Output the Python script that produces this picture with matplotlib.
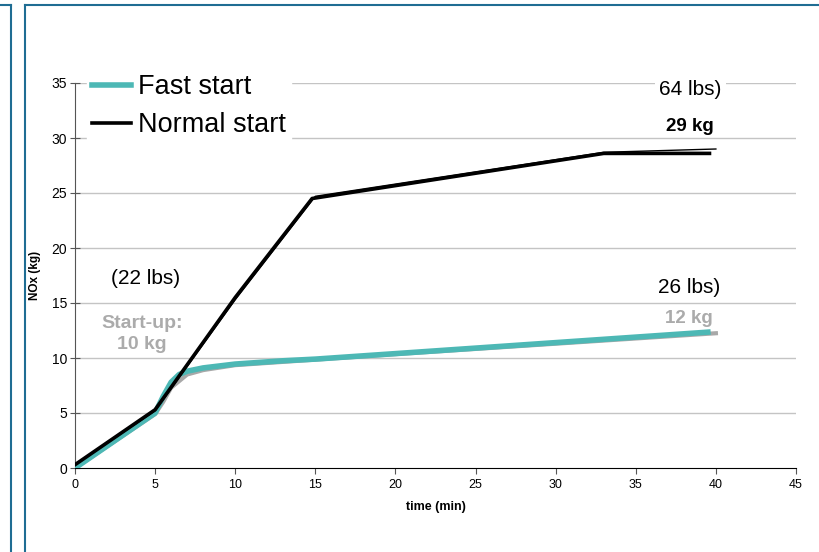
import matplotlib
matplotlib.use("Agg")
import matplotlib.pyplot as plt
from matplotlib.lines import Line2D

plt.rcParams["font.family"] = ["Liberation Sans", "DejaVu Sans"]

# normal start (thick) and its thin companion trace
normal_t = [0, 5, 10, 14.8, 33, 39.6]
normal_nox = [0.3, 5.3, 15.5, 24.5, 28.6, 28.6]
normal_thin_t = [0, 5, 10, 15, 33, 40]
normal_thin_nox = [0.3, 5.2, 15.3, 24.7, 28.7, 29.0]

# fast start (thick teal) and its grey companion trace
fast_t = [0, 5, 5.5, 6, 6.5, 7, 8, 10, 13, 15, 20, 25, 30, 35, 39.5]
fast_nox = [0, 5.0, 6.5, 7.8, 8.5, 8.8, 9.1, 9.45, 9.75, 9.9, 10.4, 10.9, 11.4, 11.9, 12.35]
fast_grey_t = [0, 5, 5.5, 6, 7, 8, 10, 15, 20, 30, 40]
fast_grey_nox = [0, 4.9, 6.0, 7.3, 8.5, 8.9, 9.35, 9.85, 10.35, 11.3, 12.25]

x_ticks = list(range(0, 46, 5))
y_ticks = list(range(0, 36, 5))

teal = "#4db8b5"
grey_text = "#ababab"
frame_blue = "#1f6d93"

fig = plt.figure(figsize=(8.19, 5.52), dpi=100)
ax = fig.add_axes([75 / 819, 1 - 468 / 552, (796 - 75) / 819, (468 - 83) / 552])

# panel frames
fig.add_artist(Line2D([0, 11 / 819], [1 - 5 / 552] * 2, color=frame_blue, lw=1.5))
fig.add_artist(Line2D([11 / 819] * 2, [0, 1 - 5 / 552], color=frame_blue, lw=1.5))
fig.add_artist(Line2D([25 / 819, 1], [1 - 5 / 552] * 2, color=frame_blue, lw=1.5))
fig.add_artist(Line2D([25 / 819] * 2, [0, 1 - 5 / 552], color=frame_blue, lw=1.5))

for y in y_ticks[1:]:
    ax.axhline(y, color="#c4c4c4", lw=1, zorder=0)

ax.plot(fast_grey_t, fast_grey_nox, color="#a8a8a8", lw=3, zorder=2, label="_grey")
ax.plot(fast_t, fast_nox, color=teal, lw=4, zorder=3, label="Fast start")
ax.plot(normal_t, normal_nox, color="black", lw=2.6, zorder=4, label="Normal start")
ax.plot(normal_thin_t, normal_thin_nox, color="black", lw=1, zorder=5, label="_thin")

ax.set_xlim(0, 45)
ax.set_ylim(0, 35)
ax.set_xticks(x_ticks)
ax.set_yticks(y_ticks)
ax.tick_params(axis="y", labelsize=10, direction="inout", length=7, width=0.8,
               colors="#555555", labelcolor="black", pad=2)
ax.tick_params(axis="x", labelsize=9, direction="out", length=4, width=0.8,
               colors="#555555", labelcolor="black", pad=4)
for side in ["top", "right"]:
    ax.spines[side].set_visible(False)
ax.spines["left"].set_color("#555555")
ax.spines["bottom"].set_color("black")

ax.set_xlabel("time (min)", fontsize=9, fontweight="bold", labelpad=7)
ax.set_ylabel("NOx (kg)", fontsize=8.5, fontweight="bold")
ax.yaxis.set_label_coords(-0.047, 0.5)

leg = ax.legend(loc="upper left", bbox_to_anchor=(0.016, 1.037), fontsize=19.5,
                frameon=True, framealpha=1, edgecolor="white", handlelength=1.45,
                handletextpad=0.25, labelspacing=0.45, borderpad=0.2, borderaxespad=0)
leg.set_zorder(6)

box = dict(facecolor="white", edgecolor="none", pad=3)
ax.text(38.4, 34.45, "64 lbs)", fontsize=15, ha="center", va="center", bbox=box, zorder=6)
ax.text(38.4, 31.05, "29 kg", fontsize=13.5, fontweight="bold", ha="center", va="center")
ax.text(38.3, 16.45, "26 lbs)", fontsize=15, ha="center", va="center", bbox=box, zorder=6)
ax.text(38.3, 13.6, "12 kg", fontsize=13.5, fontweight="bold", color=grey_text,
        ha="center", va="center")
ax.text(4.4, 17.2, "(22 lbs)", fontsize=15, ha="center", va="center")
ax.text(4.2, 12.15, "Start-up:\n10 kg", fontsize=14, fontweight="bold", color=grey_text,
        ha="center", va="center", linespacing=1.3)

fig.savefig("out.png", dpi=100)
